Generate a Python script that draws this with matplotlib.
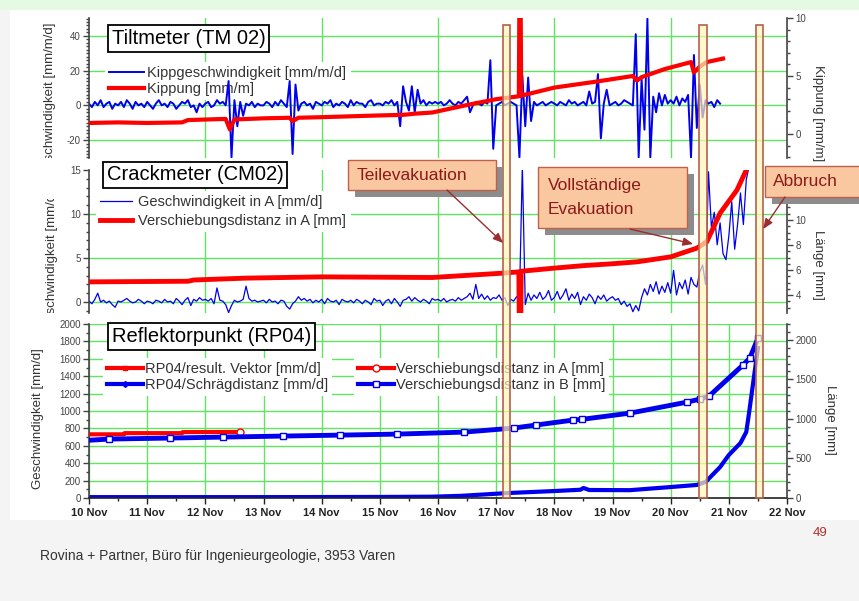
import matplotlib.pyplot as plt
import numpy as np
from matplotlib.patches import Rectangle
from matplotlib.lines import Line2D
from matplotlib.text import Annotation
from matplotlib.ticker import MultipleLocator
from matplotlib.transforms import (Bbox, TransformedBbox,
                                   blended_transform_factory, ScaledTranslation)

plt.rcParams['font.family'] = ['Liberation Sans', 'DejaVu Sans']
plt.rcParams['axes.unicode_minus'] = False
NARROW = ['Liberation Sans Narrow', 'Liberation Sans', 'DejaVu Sans']

W, H = 859, 601


def fx(px):
    return px / W


def fy(py):
    return 1 - py / H


# ---------------- data (x = days since 10 Nov 00:00) ----------------
days = list(range(13))
day_labels = ['10 Nov', '11 Nov', '12 Nov', '13 Nov', '14 Nov', '15 Nov', '16 Nov',
              '17 Nov', '18 Nov', '19 Nov', '20 Nov', '21 Nov', '22 Nov']

# Teilevakuation, Vollständige Evakuation, Abbruch
events = [(7.12, 7.24), (10.49, 10.62), (11.47, 11.59)]

# Tiltmeter TM 02: Kippgeschwindigkeit [mm/m/d], sampled every 0.05 d
tilt_rate_step = 0.05
tilt_rate = [
    1, -1, 2, 0, 3, -1, 1, 2, -2, 1, 0, 2, -1, 3, 1, -2, 2, 0, 1, -1,
    2, 0, -2, 1, 3, 0, 1, -1, 2, 1, -2, 0, 2, 1, 3, -1, 0, -4, 1, -1,
    1, 2, -1, 0, 3, 1, 2, 0, 14, -30, 3, -12, 2, -6, 1, 0, 2, -1, 1, 0,
    0, 2, 1, -1, 2, 0, 3, 1, -1, 14, -28, 12, -3, 1, 2, 0, 1, -2, 2, 1,
    0, 2, 1, 3, -1, 1, 0, 2, 1, -1, 3, 0, 2, 1, 1, -1, 2, 3, 0, 1,
    1, 0, 2, 1, 3, 0, 2, -12, 11, 2, -3, 11, -4, 9, 1, 3, 0, 2, 1, 2,
    1, 2, 0, 1, 3, 1, 0, 2, 1, 3, 5, -4, 0, 2, 1, 0, 2, 1, 26, -25,
    0, 1, 2, 0, 1, 2, 1, 0, -30, 17, -12, 16, -9, 2, 0, 1, 2, 0, 1, 2,
    1, 0, 2, 1, 0, 3, 1, 2, 0, 1, 2, 0, 8, 1, 2, 18, -19, 1, 9, 0,
    1, 2, 0, 1, 3, 2, 1, 0, 41, -30, 15, -14, 50, -30, 5, -4, 7, 0, 6, 1,
    3, 1, 5, 0, 4, 2, 6, -30, 29, -13, 12, -7, 3, 1, 2, -1, 3, 1,
]
# Kippung [mm/m]
tilt_t = [0, 0.5, 1.0, 1.6, 1.7, 2.35, 2.42, 2.5, 3.0, 3.45, 3.5, 3.6, 4.0, 5.0,
          5.4, 5.6, 5.9, 6.5, 7.0, 7.39, 7.40, 7.42, 7.43, 8.0, 8.7, 9.35, 9.42,
          9.5, 9.9, 10.35, 10.4, 10.5, 10.62, 10.9]
tilt = [0.95, 1.0, 0.95, 1.0, 1.2, 1.3, 0.4, 1.25, 1.35, 1.4, 1.1, 1.4, 1.45, 1.6,
        1.65, 1.75, 1.85, 2.5, 3.0, 3.25, 12, 12, 3.3, 4.0, 4.5, 5.0, 4.6,
        4.9, 5.6, 6.2, 5.3, 5.8, 6.2, 6.5]

# Crackmeter CM02: Geschwindigkeit in A [mm/d], sampled every 0.05 d
crack_rate_step = 0.05
crack_rate = [
    0.1, -0.2, 0.3, 1.0, 0.0, 0.2, -0.1, 0.1, -0.3, -0.6, 0.1, 0.0, 0.2, 0.4, 0.1, -0.1, 0.0, 0.3, 0.1, -0.2,
    0.1, 0.0, -0.2, 0.2, 0.1, -0.1, 0.3, 0.0, 0.1, -0.2, 0.4, 0.1, -0.3, 0.2, 0.5, -0.4, 0.3, 0.1, 0.5, 0.2,
    0.3, 0.1, 0.4, -0.2, 1.6, 0.2, 0.1, -0.3, -1.2, -0.4, 0.2, 0.0, 0.1, 0.3, 1.8, 0.4, 0.1, 0.2, 0.0, 0.1,
    0.2, -0.1, 0.3, 0.0, 0.1, -0.2, 0.2, 0.1, -0.5, -0.8, -0.2, 0.1, 0.6, 0.2, 0.4, 0.1, 0.3, -0.1, 0.2, 0.0,
    0.3, -0.2, 0.4, 0.1, 0.0, 0.2, -0.3, 0.3, 0.1, 0.0, 0.2, -0.1, 0.3, 0.1, -0.2, 0.2, 0.0, -0.3, 0.4, 0.1,
    0.2, -0.4, 0.1, 0.3, -0.2, 0.4, 0.0, -0.5, 0.2, 0.3, 0.6, 0.1, 0.5, 0.2, 0.0, 0.3, 0.1, -0.2, 0.4, 0.2,
    0.3, 0.1, 0.4, 0.0, 0.2, 0.3, 0.1, 0.5, 0.2, 0.4, 0.6, 1.0, 0.3, 2.0, 0.4, 0.9, 0.3, 0.7, 0.2, 0.5,
    0.4, 0.8, 0.2, 0.5, -0.4, 0.3, 0.1, 0.6, 0.3, 15.5, -0.3, 1.0, 0.2, 0.8, 0.4, 1.1, 0.3, 0.6, 1.3, 0.2,
    0.5, 1.2, 0.3, 0.8, 1.5, 0.2, 0.9, 0.4, 1.1, -0.3, 0.6, 0.2, 0.9, 0.5, -0.2, 0.7, 0.3, 0.8, 0.1, 0.4,
    0.6, 0.2, 0.4, -0.3, 0.1, -0.5, -0.2, -1.1, -0.4, -1.0, 0.5, 1.5, 0.8, 2.0, 1.2, 2.3, 0.9, 1.8, 1.1, 2.2,
    1.0, 3.6, 0.8, 2.2, 1.5, 2.5, 0.9, 2.8, 2.0, 1.7, 3.4, 4.2, 2.0, 14.8, 8.5, 10.2, 6.5, 9.0, 5.5, 4.8,
    7.5, 11.4, 6.0, 8.8, 12.4, 8.8, 13.9, 15.5,
]
# Verschiebungsdistanz in A [mm]
crack_t = [0, 1.7, 1.8, 2.7, 4.0, 5.9, 6.6, 7.12, 7.39, 7.40, 7.42, 7.43, 8.0, 8.5,
           9.0, 9.42, 10.0, 10.45, 10.62, 10.85, 11.14, 11.3, 11.4]
crack = [5.05, 5.1, 5.2, 5.35, 5.45, 5.4, 5.6, 5.75, 5.85, 0, 0, 5.9, 6.15, 6.35,
         6.5, 6.65, 7.05, 7.75, 8.25, 10.55, 12.4, 14.0, 15]

# Reflektorpunkt RP04
slope_rate_t = [0, 3.0, 5.0, 5.9, 6.4, 7.2, 8.0, 8.45, 8.5, 8.6, 9.3, 10.0, 10.45,
                10.6, 10.85, 11.0, 11.2, 11.3, 11.35, 11.42, 11.5]
slope_rate = [10, 10, 12, 15, 25, 57, 80, 95, 115, 92, 90, 126, 150,
              184, 356, 494, 632, 759, 989, 1333, 1724]
dist_a_t = [0, 0.6, 0.61, 1.6, 1.61, 2.6]
dist_a = [805, 805, 820, 820, 833, 835]
dist_b_t = [0, 0.34, 1.39, 2.3, 3.33, 4.31, 5.3, 6.45, 7.3, 7.68, 8.32, 8.48,
            9.3, 10.28, 10.5, 10.66, 11.24, 11.36, 11.5]
dist_b = [730, 745, 758, 770, 783, 795, 808, 833, 884, 922, 985, 995,
          1073, 1212, 1250, 1288, 1679, 1768, 2020]

# ---------------- style ----------------
BLUE = '#0000EE'
RED = '#FF0000'
GRID = '#5EE65E'
AXC = '#444444'
TXT = '#333333'

fig = plt.figure(figsize=(W / 100, H / 100), dpi=100, facecolor='#F4F4F4')
fig.add_artist(Rectangle((fx(10), fy(520)), 1 - fx(10), 510 / H, transform=fig.transFigure,
                         fc='white', ec='none', zorder=-5))
fig.add_artist(Rectangle((0, fy(10)), 1, 10 / H, transform=fig.transFigure,
                         fc='#E5FAE2', ec='none', zorder=-5))


def make_panel(top, bottom):
    ax = fig.add_axes([fx(89), fy(bottom), (787 - 89) / W, (bottom - top) / H])
    ax.patch.set_visible(False)
    axr = ax.twinx()
    ax.set_xlim(0, 12)
    ax.set_axisbelow(True)
    for a in (ax, axr):
        for s in a.spines.values():
            s.set_visible(False)
        a.tick_params(axis='y', which='both', direction='out', colors=AXC, labelsize=7, width=1)
        a.tick_params(axis='y', which='major', length=4, pad=2)
        a.tick_params(axis='y', which='minor', length=2.5)
    ax.spines['left'].set_visible(True)
    ax.spines['left'].set_color(AXC)
    ax.spines['left'].set_linewidth(1.2)
    axr.spines['right'].set_visible(True)
    axr.spines['right'].set_color(AXC)
    axr.spines['right'].set_linewidth(1.2)
    return ax, axr


def add_legend(ax, handles, labels, x, y, hl, htp, ls):
    leg = ax.legend(handles, labels, loc='center left', bbox_to_anchor=(fx(x), fy(y)),
                    bbox_transform=fig.transFigure, fontsize=10.5, handlelength=hl,
                    handletextpad=htp, labelspacing=ls, borderpad=0.3, borderaxespad=0,
                    frameon=True, fancybox=False, edgecolor='none', facecolor='white',
                    framealpha=1)
    leg.set_zorder(1)
    for t in leg.get_texts():
        t.set_color(TXT)
    return leg


def title_box(x, y, text):
    fig.text(fx(x), fy(y), text, fontsize=14.5, ha='left', va='center', color='black',
             bbox=dict(boxstyle='square,pad=0.18', fc='white', ec='black', lw=1.3), zorder=6)


def side_label(x, y, text, rot, clip=None):
    t = fig.text(fx(x), fy(y), text, rotation=rot, ha='center', va='center',
                 fontsize=9.5, color=TXT, rotation_mode='anchor')
    if clip is not None:
        t.set_clip_box(TransformedBbox(Bbox.from_extents(0, fy(clip[1]), 1, fy(clip[0])),
                                       fig.transFigure))
        t.set_clip_on(True)


# ---------------- Tiltmeter ----------------
ax1, ax1r = make_panel(18, 158)
ax1.set_ylim(-30.3, 50.3)
ax1r.set_ylim(-2.07, 10.0)
ax1.set_yticks([-20, 0, 20, 40])
ax1.yaxis.set_minor_locator(MultipleLocator(2))
ax1r.set_yticks([0, 5, 10])
ax1r.yaxis.set_minor_locator(MultipleLocator(1))
ax1.set_xticks(range(2, 12, 2))
ax1.tick_params(axis='x', length=0, labelbottom=False)
ax1.grid(True, color=GRID, lw=1)

tilt_rate_t = np.arange(len(tilt_rate)) * tilt_rate_step
h1, = ax1.plot(tilt_rate_t, tilt_rate, color=BLUE, lw=1.4, zorder=2)
h2, = ax1r.plot(tilt_t, tilt, color=RED, lw=3)
add_legend(ax1, [h1, h2], ['Kippgeschwindigkeit [mm/m/d]', 'Kippung [mm/m]'],
           105, 81, 2.4, 0.2, 0.15)
title_box(112, 38.5, 'Tiltmeter (TM 02)')
side_label(50, 100, 'Geschwindigkeit [mm/m/d]', 90, clip=(18, 158))
side_label(818, 113, 'Kippung [mm/m]', 270)

# ---------------- Crackmeter ----------------
ax2, ax2r = make_panel(170, 313)
ax2.set_ylim(-1.25, 15)
ax2r.set_ylim(2.56, 14)
ax2.set_yticks([0, 5, 10, 15])
ax2.yaxis.set_minor_locator(MultipleLocator(1))
# 12 and 14 sit under the "Abbruch" callout, so only the lower labels show
ax2r.set_yticks([4, 6, 8, 10])
ax2r.yaxis.set_minor_locator(MultipleLocator(0.5))
ax2.set_xticks(range(2, 12, 2))
ax2.tick_params(axis='x', length=0, labelbottom=False)
ax2.grid(True, axis='x', color=GRID, lw=1)
for v in [0, 5, 10]:
    ax2.axhline(v, color=GRID, lw=1, zorder=0.5)

crack_rate_t = np.arange(len(crack_rate)) * crack_rate_step
h3, = ax2.plot(crack_rate_t, crack_rate, color=BLUE, lw=0.9, zorder=2)
h4, = ax2r.plot(crack_t, crack, color=RED, lw=3.5)
add_legend(ax2, [h3, h4], ['Geschwindigkeit in A [mm/d]', 'Verschiebungsdistanz in A [mm]'],
           96, 211.5, 2.2, 0.4, 0.3)
title_box(107, 175, 'Crackmeter (CM02)')
side_label(52, 261, 'Geschwindigkeit [mm/d]', 90, clip=(199, 313))
side_label(818, 265, 'Länge [mm]', 270)

# ---------------- Reflektorpunkt ----------------
ax3, ax3r = make_panel(324, 498)
ax3.set_ylim(0, 2000)
ax3r.set_ylim(0, 2200)
ax3.set_yticks(range(0, 2001, 200))
ax3.yaxis.set_minor_locator(MultipleLocator(100))
ax3r.set_yticks(range(0, 2001, 500))
ax3r.yaxis.set_minor_locator(MultipleLocator(100))
ax3.spines['bottom'].set_visible(True)
ax3.spines['bottom'].set_color('#222222')
ax3.spines['bottom'].set_linewidth(1.2)
ax3.set_xticks(days)
ax3.set_xticklabels(day_labels, fontsize=8, fontweight='bold', family=NARROW, color='#222222')
ax3.xaxis.set_minor_locator(MultipleLocator(0.5))
ax3.tick_params(axis='x', which='major', direction='out', length=4, width=1, color='#222222', pad=3)
ax3.tick_params(axis='x', which='minor', direction='out', length=2.5, width=1, color='#222222')
ax3.grid(True, color=GRID, lw=1)

ax3.plot(slope_rate_t, slope_rate, color=BLUE, lw=3, zorder=2)
ax3r.plot(dist_a_t, dist_a, color=RED, lw=3, marker='o', ms=5, mfc='white', mec=RED,
          mew=1, markevery=[len(dist_a) - 1])
ax3r.plot(dist_b_t, dist_b, color=BLUE, lw=3.5, marker='s', ms=4.5, mfc='white', mec=BLUE,
          mew=1, markevery=list(range(1, len(dist_b))))

leg_l = add_legend(ax3,
                   [Line2D([], [], color=RED, lw=3, marker='s', ms=3.5),
                    Line2D([], [], color=BLUE, lw=3, marker='D', ms=3)],
                   ['RP04/result. Vektor [mm/d]', 'RP04/Schrägdistanz [mm/d]'],
                   103, 377, 2.45, 0.1, 0.15)
ax3.add_artist(leg_l)
add_legend(ax3,
           [Line2D([], [], color=RED, lw=3, marker='o', ms=5, mfc='white', mec=RED),
            Line2D([], [], color=BLUE, lw=3, marker='s', ms=4.5, mfc='white', mec=BLUE)],
           ['Verschiebungsdistanz in A [mm]', 'Verschiebungsdistanz in B [mm]'],
           354, 377, 2.45, 0.1, 0.15)
title_box(112, 336.5, 'Reflektorpunkt (RP04)')
side_label(38, 419, 'Geschwindigkeit [mm/d]', 90)
side_label(830, 420, 'Länge [mm]', 270)

# ---------------- event bands across all panels ----------------
band_tf = blended_transform_factory(ax3.transData, fig.transFigure)
for x0, x1 in events:
    fig.add_artist(Rectangle((x0, fy(498)), x1 - x0, (498 - 25) / H, transform=band_tf,
                             fc=(1.0, 0.96, 0.72, 0.7), ec='#B5604A', lw=1.2, zorder=3))

# ---------------- callouts ----------------
# text, box (px), text x, arrow start (px), event index, edge, tip y, tip dx (px)
callouts = [
    ('Teilevakuation', (348, 160, 496, 190), 357, (447, 190), 0, 0, 243, 0),
    ('Vollständige\nEvakuation', (538, 167, 687, 228), 548, (630, 229), 1, 0, 244, -6),
    ('Abbruch', (765, 166, 862, 197), 773, (785, 197), 2, 1, 229, 0),
]
for text, (bx0, by0, bx1, by1), tx, (sx, sy), ei, edge, ty, dx in callouts:
    fig.add_artist(Rectangle((fx(bx0 + 7), fy(by1 + 7)), (bx1 - bx0) / W, (by1 - by0) / H,
                             transform=fig.transFigure, fc='#8C8C8C', ec='none', zorder=6))
    fig.add_artist(Rectangle((fx(bx0), fy(by1)), (bx1 - bx0) / W, (by1 - by0) / H,
                             transform=fig.transFigure, fc='#FAC8A0', ec='#C0604A', lw=1,
                             zorder=7))
    fig.text(fx(tx), fy((by0 + by1) / 2), text, fontsize=12.5, color='#8B1A1A', ha='left',
             va='center', linespacing=1.75, zorder=8)
    tip_tf = band_tf + ScaledTranslation(dx / 100, 0, fig.dpi_scale_trans)
    ann = Annotation('', xy=(events[ei][edge], fy(ty)), xycoords=tip_tf,
                     xytext=(fx(sx), fy(sy)), textcoords='figure fraction',
                     arrowprops=dict(arrowstyle='-|>,head_length=0.6,head_width=0.25',
                                     color='#9B2D2D', lw=1, shrinkA=0, shrinkB=0),
                     zorder=9)
    fig.add_artist(ann)

# ---------------- footer ----------------
fig.text(fx(820), fy(533), '49', fontsize=9.5, color='#B03030', ha='center', va='center',
         family=NARROW)
fig.text(fx(40), fy(556), 'Rovina + Partner, Büro für Ingenieurgeologie, 3953 Varen',
         fontsize=10, color=TXT, ha='left', va='center', family=NARROW)

fig.savefig('out.png', dpi=100, facecolor=fig.get_facecolor())
